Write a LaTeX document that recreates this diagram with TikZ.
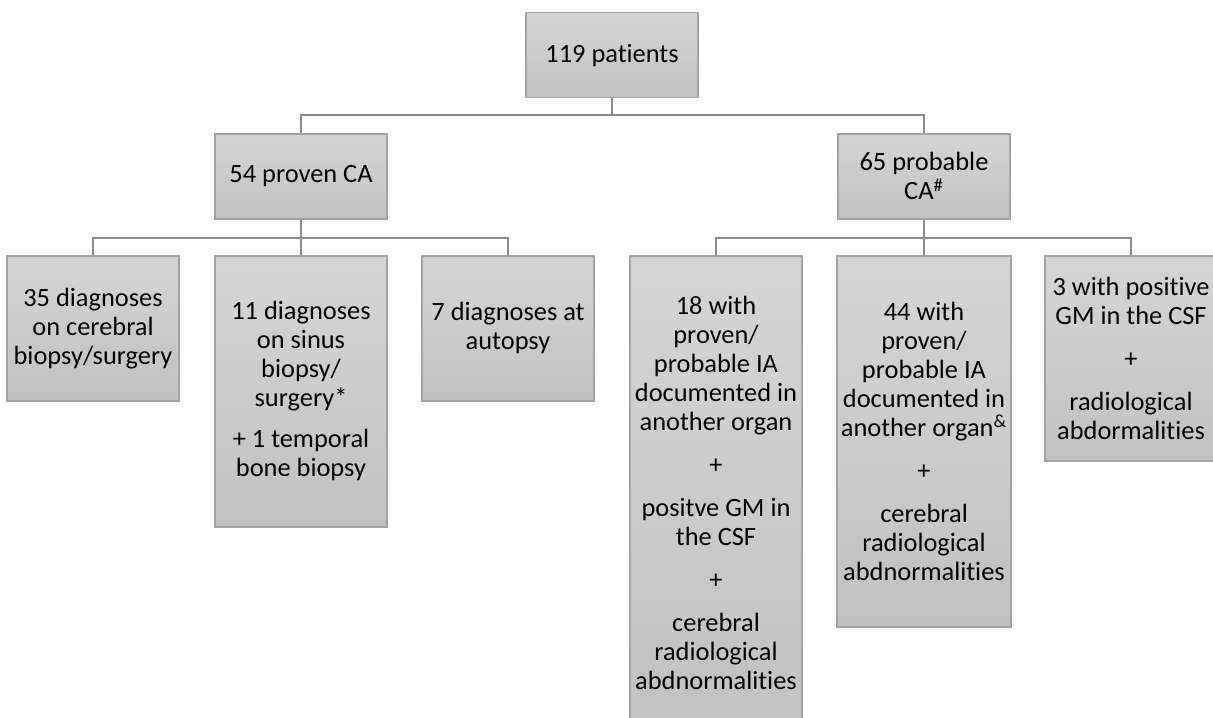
\documentclass[tikz,border=0pt]{standalone}
\usepackage{fontspec}
\setmainfont[Ligatures=NoCommon]{Carlito}
\definecolor{boxtop}{HTML}{D5D5D5}
\definecolor{boxbot}{HTML}{C1C1C1}
\definecolor{boxedge}{HTML}{A3A3A3}
\definecolor{linkgray}{HTML}{8C8C8C}
\begin{document}
\begin{tikzpicture}[x=0.5pt, y=-0.5pt,
    box/.style={rectangle, draw=boxedge, line width=0.75pt, top color=boxtop, bottom color=boxbot,
        anchor=north, minimum width=86pt, align=center, inner sep=2pt,
        font=\fontsize{13.2}{14.5}\selectfont},
    link/.style={draw=linkgray, line width=1pt}]
    \useasboundingbox (0,0) rectangle (1213,717);

    % All patients
    \node[box, minimum height=42.5pt] (all) at (612,12) {119 patients};

    % Proven / probable
    \node[box, minimum height=42.5pt] (proven) at (301,133) {54 proven CA};
    \node[box, minimum height=42.5pt] (probable) at (924,133) {65 probable\\CA\textsuperscript{\#}};

    % Proven cases
    \node[box, minimum height=72.5pt] (cereb) at (93,255) {35 diagnoses\\on cerebral\\biopsy/surgery};
    \node[box, minimum height=135.5pt] (sinus) at (301,255) {11 diagnoses\\on sinus\\biopsy/\\surgery*\\[6pt]+ 1 temporal\\bone biopsy};
    \node[box, minimum height=72.5pt] (autopsy) at (508,255) {7 diagnoses at\\autopsy};

    % Probable cases
    \node[box, minimum height=237.5pt] (csf) at (716,255) {18 with\\proven/\\probable IA\\documented in\\another organ\\[7pt]+\\[7pt]positve GM in\\the CSF\\[7pt]+\\[7pt]cerebral\\radiological\\abdnormalities};
    \node[box, minimum height=185.5pt] (organ) at (924,255) {44 with\\proven/\\probable IA\\documented in\\another organ\textsuperscript{\&}\\[7pt]+\\[7pt]cerebral\\radiological\\abdnormalities};
    \node[box, minimum height=102.5pt] (gm) at (1131,255) {3 with positive\\GM in the CSF\\[7pt]+\\[7pt]radiological\\abdormalities};

    % Links
    \draw[link] (all.south) -- ++(0,16) -| (proven.north);
    \draw[link] (all.south) -- ++(0,16) -| (probable.north);
    \foreach \kid in {cereb, sinus, autopsy}
        \draw[link] (proven.south) -- ++(0,18) -| (\kid.north);
    \foreach \kid in {csf, organ, gm}
        \draw[link] (probable.south) -- ++(0,18) -| (\kid.north);
\end{tikzpicture}
\end{document}
